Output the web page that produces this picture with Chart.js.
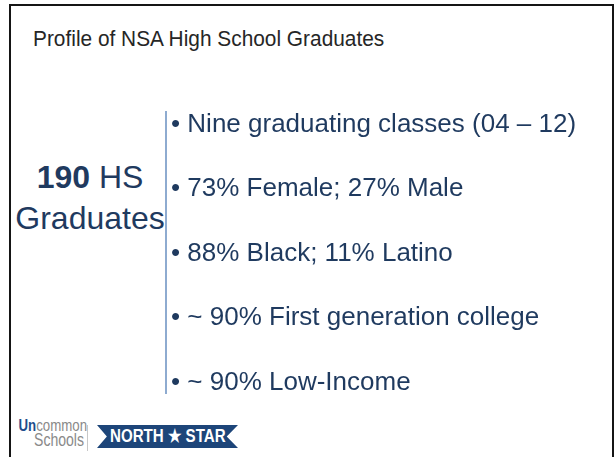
<!DOCTYPE html>
<html>
<head>
<meta charset="utf-8">
<script src="https://cdn.jsdelivr.net/npm/chart.js@4.4.0/dist/chart.umd.min.js"></script>
<style>
  html, body { margin: 0; padding: 0; background: #fff; }
  body { width: 616px; height: 457px; position: relative; overflow: hidden; font-family: "Liberation Sans", Arial, sans-serif; }
  .frame { position: absolute; left: 9px; top: 4px; width: 601px; height: 470px; border: 2px solid #151515; border-bottom: none; }
  .title { position: absolute; left: 33px; top: 29px; font-size: 21.5px; line-height: 21px; color: #262626; white-space: nowrap;
           transform: scaleX(0.97); transform-origin: left center; }
  .big { position: absolute; left: 10px; top: 157px; width: 160px; text-align: center; font-size: 32px; line-height: 41px; color: #1f3a5f; }
  .big b { font-weight: bold; }
  .chart-wrap { position: absolute; left: 150px; top: 91px; width: 466px; height: 323px; }
  .uc { position: absolute; left: 0px; top: 419px; width: 84px; font-size: 17px; line-height: 13px; color: #8a8a8a; text-align: right;
        transform: scaleX(0.78); transform-origin: right center; }
  .uc span { color: #1f4e8c; font-weight: bold; }
  .uc .s { display: block; font-size: 18px; line-height: 16px; color: #8a8a8a; font-weight: normal; }
  .sep { position: absolute; left: 87px; top: 425px; width: 1px; height: 26px; background: #c8c8c8; }
  .banner { position: absolute; left: 97px; top: 425px; width: 141px; height: 23px; background: #1d4579;
            clip-path: polygon(0 0, 100% 0, 92% 50%, 100% 100%, 0 100%, 7% 50%); text-align: center; }
  .banner div { display: inline-block; color: #fff; font-weight: bold; font-size: 18px; line-height: 23px; white-space: nowrap;
                transform: scaleX(0.84); transform-origin: center center; }
</style>
</head>
<body>
<div class="frame"></div>
<div class="title">Profile of NSA High School Graduates</div>
<div class="big"><b>190</b> HS<br>Graduates</div>
<div class="chart-wrap"><canvas id="list"></canvas></div>
<div class="uc"><span>Un</span>common<span class="s">Schools</span></div>
<div class="sep"></div>
<div class="banner"><div>NORTH ★ STAR</div></div>
<script>
// bullet points shown next to the divider
const bullets = [
  'Nine graduating classes (04 \u2013 12)',
  '73% Female; 27% Male',
  '88% Black; 11% Latino',
  '~ 90% First generation college',
  '~ 90% Low-Income'
];
const positions = [0, 1, 2, 3, 4];

const listChart = new Chart(document.getElementById('list'), {
  type: 'scatter',
  data: { datasets: [] },
  options: {
    responsive: true,
    maintainAspectRatio: false,
    animation: false,
    layout: { padding: { top: 12, bottom: 12, left: 0, right: 0 } },
    plugins: { legend: { display: false }, tooltip: { enabled: false } },
    scales: {
      x: { display: false, min: 0, max: 1 },
      y: {
        type: 'linear',
        position: 'right',
        reverse: true,
        min: -0.2,
        max: 4.17,
        grid: { display: false, drawTicks: false },
        border: { display: true, color: '#8eabd0', width: 2 },
        afterBuildTicks: scale => { scale.ticks = positions.map(v => ({ value: v })); },
        afterFit: scale => { scale.width = 450; },
        ticks: {
          padding: 5,
          color: '#1f3a5f',
          font: { family: '"Liberation Sans", Arial, sans-serif', size: 26 },
          callback: v => '\u2022 ' + bullets[v]
        }
      }
    }
  }
});
</script>
</body>
</html>
